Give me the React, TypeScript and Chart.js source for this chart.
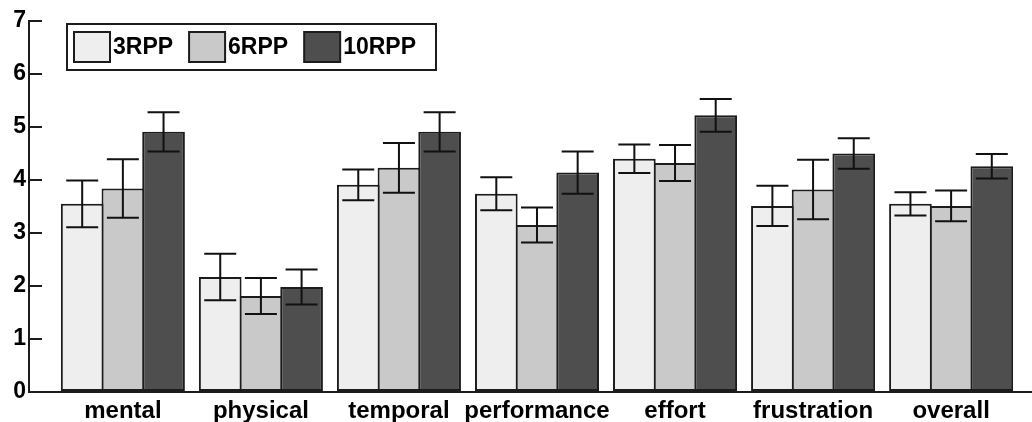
import React, { useEffect, useRef } from "react";
import { Chart, registerables } from "chart.js";

Chart.register(...registerables);

const CATEGORIES = ["mental", "physical", "temporal", "performance", "effort", "frustration", "overall"];
const SERIES_LABELS = ["3RPP", "6RPP", "10RPP"];
const VALUES_3RPP = [3.55, 2.17, 3.91, 3.74, 4.4, 3.51, 3.55];
const VALUES_6RPP = [3.84, 1.81, 4.23, 3.15, 4.32, 3.82, 3.51];
const VALUES_10RPP = [4.91, 1.98, 4.91, 4.14, 5.22, 4.5, 4.26];
const ERR_3RPP = [0.44, 0.44, 0.29, 0.31, 0.27, 0.38, 0.22];
const ERR_6RPP = [0.55, 0.34, 0.47, 0.33, 0.34, 0.56, 0.29];
const ERR_10RPP = [0.37, 0.33, 0.37, 0.4, 0.31, 0.29, 0.23];
const Y_MIN = 0;
const Y_MAX = 7;
const Y_STEP = 1;

const COLORS = ["#eeeeee", "#c9c9c9", "#4e4e4e"];
const EDGE = "#1c1c1c";
const FONT_FAMILY = "'Liberation Sans', Arial, Helvetica, sans-serif";

const SERIES_VALUES = [VALUES_3RPP, VALUES_6RPP, VALUES_10RPP];
const SERIES_ERRORS = [ERR_3RPP, ERR_6RPP, ERR_10RPP];

const errorBarPlugin = {
  id: "errorBars",
  afterDatasetsDraw(chart: any) {
    const { ctx } = chart;
    const yScale = chart.scales.y;
    ctx.save();
    ctx.strokeStyle = "#111111";
    ctx.lineWidth = 2;
    chart.data.datasets.forEach((ds: any, di: number) => {
      const meta = chart.getDatasetMeta(di);
      const errs = SERIES_ERRORS[di];
      meta.data.forEach((el: any, i: number) => {
        const v = SERIES_VALUES[di][i];
        const e = errs[i];
        const x = el.x;
        const yTop = yScale.getPixelForValue(v + e);
        const yBot = yScale.getPixelForValue(v - e);
        const half = 16;
        ctx.beginPath();
        ctx.moveTo(x, yTop);
        ctx.lineTo(x, yBot);
        ctx.moveTo(x - half, yTop);
        ctx.lineTo(x + half, yTop);
        ctx.moveTo(x - half, yBot);
        ctx.lineTo(x + half, yBot);
        ctx.stroke();
      });
    });
    ctx.restore();
  },
};

const boxedLegendPlugin = {
  id: "boxedLegend",
  afterDraw(chart: any) {
    const { ctx } = chart;
    const boxX = 67;
    const boxY = 24;
    const boxW = 369;
    const boxH = 46;
    ctx.save();
    ctx.fillStyle = "#ffffff";
    ctx.fillRect(boxX, boxY, boxW, boxH);
    ctx.lineWidth = 2;
    ctx.strokeStyle = EDGE;
    ctx.strokeRect(boxX, boxY, boxW, boxH);
    ctx.font = `bold 23px ${FONT_FAMILY}`;
    ctx.textBaseline = "middle";
    ctx.textAlign = "left";
    let x = 74;
    const swW = 36;
    const swH = 30;
    const swY = 32;
    chart.data.datasets.forEach((ds: any) => {
      ctx.fillStyle = ds.backgroundColor;
      ctx.fillRect(x, swY, swW, swH);
      ctx.lineWidth = 2;
      ctx.strokeStyle = EDGE;
      ctx.strokeRect(x, swY, swW, swH);
      const tx = x + swW + 3;
      ctx.fillStyle = "#000000";
      ctx.fillText(ds.label, tx, swY + swH / 2 + 1);
      const w = ctx.measureText(ds.label).width;
      x = tx + w + 16;
    });
    ctx.restore();
  },
};

export default function App() {
  const canvasRef = useRef<HTMLCanvasElement | null>(null);

  useEffect(() => {
    if (!canvasRef.current) return;
    const datasets = SERIES_LABELS.map((label, si) => ({
      label,
      data: SERIES_VALUES[si].map((v, i) => ({ x: i, y: v })),
      backgroundColor: COLORS[si],
      borderColor: EDGE,
      borderWidth: 2,
      borderSkipped: false,
      barPercentage: 1.049,
      categoryPercentage: 0.884,
    }));

    const chart = new Chart(canvasRef.current, {
      type: "bar",
      data: { datasets },
      options: {
        animation: false,
        responsive: true,
        maintainAspectRatio: false,
        layout: { padding: { top: 21, right: 0, left: 0, bottom: 0 } },
        plugins: {
          legend: { display: false },
          tooltip: { enabled: false },
        },
        scales: {
          x: {
            type: "linear",
            min: -0.68,
            max: 6.586,
            offset: false,
            grid: { display: false, drawTicks: false },
            border: { display: true, color: EDGE, width: 2 },
            ticks: {
              stepSize: 1,
              includeBounds: false,
              autoSkip: false,
              maxRotation: 0,
              minRotation: 0,
              padding: 5,
              color: "#000000",
              font: { family: FONT_FAMILY, size: 24, weight: "bold" },
              callback: (v: any) => {
                const idx = Math.round(Number(v));
                return Math.abs(Number(v) - idx) < 1e-6 ? CATEGORIES[idx] ?? "" : "";
              },
            },
            afterFit: (scale: any) => {
              scale.height = 30;
              scale.paddingLeft = 0;
              scale.paddingRight = 0;
            },
          },
          y: {
            min: Y_MIN,
            max: Y_MAX,
            grid: {
              display: true,
              drawOnChartArea: false,
              drawTicks: true,
              tickLength: -13,
              color: EDGE,
              lineWidth: 2,
            },
            border: { display: true, color: EDGE, width: 2 },
            ticks: {
              stepSize: Y_STEP,
              padding: 16,
              color: "#000000",
              font: { family: FONT_FAMILY, size: 23, weight: "bold" },
            },
            afterFit: (scale: any) => {
              scale.width = 29;
              scale.paddingTop = 0;
              scale.paddingBottom = 0;
            },
          },
        },
      } as any,
      plugins: [errorBarPlugin, boxedLegendPlugin],
    });
    return () => chart.destroy();
  }, []);

  return (
    <div style={{ position: "fixed", left: 0, top: 0, width: 1032, height: 422, background: "#ffffff" }}>
      <canvas ref={canvasRef} />
    </div>
  );
}
